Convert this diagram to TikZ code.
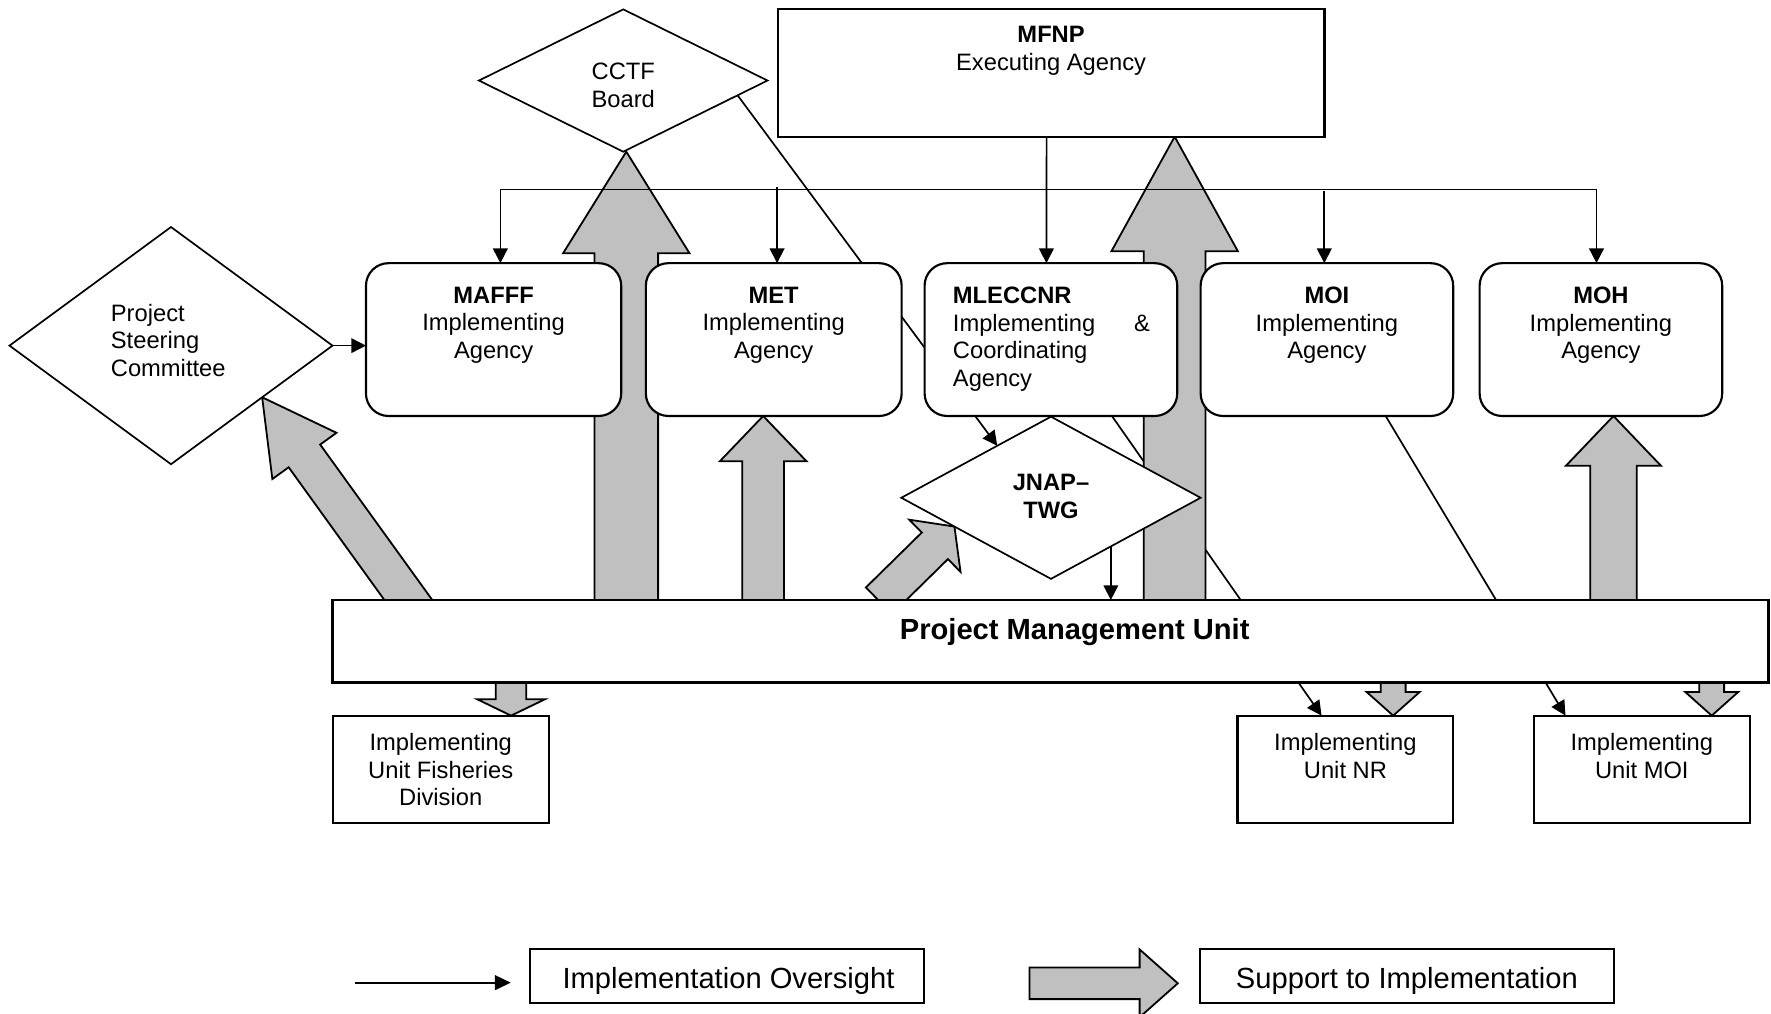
\documentclass[tikz,border=0pt]{standalone}
\usepackage{fontspec}
\setmainfont{Liberation Sans}
\usetikzlibrary{arrows.meta,calc,shapes.geometric}
\definecolor{arrowgray}{RGB}{192,192,192}
\pgfdeclarelayer{bg}
\pgfdeclarelayer{mid}
\pgfsetlayers{bg,mid,main}
\tikzset{
  base/.style={inner sep=0pt, outer sep=0pt},
  agency/.style={base, draw, line width=1.9pt, rounded corners=20pt, fill=white, minimum height=135.3pt, anchor=north west},
  plainbox/.style={base, draw, line width=1.9pt, fill=white, anchor=north west},
  dia/.style={base, draw, line width=1.5pt, fill=white, diamond},
  txt/.style={inner sep=0pt, font=\fontsize{21}{24.4}\selectfont, align=center, anchor=north},
  bigtxt/.style={inner sep=0pt, font=\fontsize{25.8}{30}\selectfont, anchor=north},
  oversight/.style={line width=1.5pt, -{Triangle[length=13pt,width=13pt]}},
  graya/.style={draw=black, line width=1.6pt, fill=arrowgray, line join=miter},
}
\newcommand\blkarrow[5]{%
  \path ($(#2)!#5!(#1)$) coordinate (bkb);
  \draw[graya] ($(#1)!#3!90:(#2)$) -- ($(bkb)!#3!-90:(#1)$) -- ($(bkb)!#4!-90:(#1)$) -- (#2)
    -- ($(bkb)!#4!90:(#1)$) -- ($(bkb)!#3!90:(#1)$) -- ($(#1)!#3!-90:(#2)$) -- cycle;
}
\begin{document}
\begin{tikzpicture}[x=1pt,y=-1pt]
\useasboundingbox (0,0) rectangle (1568,897);
\clip (0,0) rectangle (1568,897);

% ---------- boxes ----------
\node[plainbox, minimum width=484.1pt, minimum height=112.7pt] (MFNP) at (688.6,8.3) {};
\node[agency, minimum width=226pt] (MAFFF) at (324,233) {};
\node[agency, minimum width=226.5pt] (MET) at (571.8,233) {};
\node[agency, minimum width=223.7pt] (MLE) at (818.6,233) {};
\node[agency, minimum width=223.6pt] (MOI) at (1063,233) {};
\node[agency, minimum width=214.8pt] (MOH) at (1310,233) {};
\node[dia, minimum width=255.5pt, minimum height=126pt] (CCTF) at (551.8,71.3) {};
\node[dia, minimum width=286pt, minimum height=210pt] (PSC) at (151.4,306) {};
\node[dia, minimum width=265pt, minimum height=143.6pt] (JNAP) at (930.5,440.7) {};
\node[plainbox, line width=2.4pt, minimum width=1271.1pt, minimum height=73.2pt] (PMU) at (294.5,531.2) {};
\node[plainbox, minimum width=191.5pt, minimum height=95.3pt] (IUF) at (294.5,633.6) {};
\node[plainbox, minimum width=191.1pt, minimum height=95.3pt] (IUNR) at (1095.6,633.6) {};
\node[plainbox, minimum width=191.2pt, minimum height=95.3pt] (IUMOI) at (1358,633.6) {};
\node[plainbox, minimum width=349pt, minimum height=47.5pt] (legO) at (468.9,840.2) {};
\node[plainbox, minimum width=365.9pt, minimum height=48pt] (legS) at (1062.7,840.2) {};

% ---------- texts ----------
\node[txt] (CCTFt) at (551.8,55.5) {CCTF\\Board};
\node[txt] (MFNPt) at (930.6,23) {\textbf{MFNP}\\Executing Agency};
\node[txt] (MAFFFt) at (437,254) {\textbf{MAFFF}\\Implementing\\Agency};
\node[txt] (METt) at (685,254) {\textbf{MET}\\Implementing\\Agency};
\node[txt, anchor=north west, text width=174.5pt, align=left] (MLEt) at (843.5,254)
  {\textbf{MLECCNR}\\Implementing\hfill\&\\Coordinating\\Agency};
\node[txt] (MOIt) at (1174.8,254) {\textbf{MOI}\\Implementing\\Agency};
\node[txt] (MOHt) at (1417.4,254) {\textbf{MOH}\\Implementing\\Agency};
\node[txt, anchor=north west, align=left] (PSCt) at (98,269) {Project\\Steering\\Committee};
\node[txt, font=\fontsize{21}{24.4}\selectfont\bfseries] (JNAPt) at (930.5,420) {JNAP–\\TWG};
\node[bigtxt, font=\fontsize{25.8}{30}\selectfont\bfseries] (PMUt) at (951.5,547) {Project Management Unit};
\node[txt] (IUFt) at (390.2,649) {Implementing\\Unit Fisheries\\Division};
\node[txt] (IUNRt) at (1191.2,649) {Implementing\\Unit NR};
\node[txt] (IUMOIt) at (1453.6,649) {Implementing\\Unit MOI};
\node[bigtxt] (legOt) at (645,856) {Implementation Oversight};
\node[bigtxt] (legSt) at (1245.6,856) {Support to Implementation};

% ---------- oversight lines hidden behind boxes ----------
\begin{pgfonlayer}{bg}
  \draw[oversight] ($(CCTF.east)!0.2075!(CCTF.south)$) -- ($(JNAP.west)!0.641!(JNAP.north)$);
  \draw[oversight] ([xshift=54pt]MLE.south) -- ([xshift=74.5pt]IUNR.north west);
  \draw[oversight] ([xshift=163.8pt]MOI.south west) -- ([xshift=28pt]IUMOI.north west);
\end{pgfonlayer}

% ---------- support (grey block) arrows ----------
\begin{pgfonlayer}{mid}
  \coordinate (tCCTF) at (554.5,545);
  \coordinate (hCCTF) at (tCCTF |- CCTF.south);
  \blkarrow{tCCTF}{hCCTF}{28.2pt}{56pt}{90pt}
  \coordinate (tMFNP) at (1040,545);
  \coordinate (hMFNP) at (tMFNP |- MFNP.south);
  \blkarrow{tMFNP}{hMFNP}{27.3pt}{56pt}{101.5pt}
  \coordinate (tMET) at (675.7,545);
  \coordinate (hMET) at (tMET |- MET.south);
  \blkarrow{tMET}{hMET}{18.5pt}{38.3pt}{40pt}
  \coordinate (tMOH) at (1428.5,545);
  \coordinate (hMOH) at (tMOH |- MOH.south);
  \blkarrow{tMOH}{hMOH}{20.6pt}{42pt}{44pt}
  \coordinate (tPSC) at (373.2,547.4);
  \coordinate (hPSC) at ($(PSC.east)!0.4357!(PSC.south)$);
  \blkarrow{tPSC}{hPSC}{17.2pt}{35pt}{64pt}
  \coordinate (tJN) at (778.2,531.9);
  \coordinate (hJN) at ($(JNAP.west)!0.355!(JNAP.south)$);
  \blkarrow{tJN}{hJN}{16.5pt}{32.4pt}{24.3pt}
  \coordinate (tIUF) at (452.5,590);
  \coordinate (hIUF) at (tIUF |- IUF.north);
  \blkarrow{tIUF}{hIUF}{13.5pt}{30pt}{14.5pt}
  \coordinate (tIUNR) at (1233.5,590);
  \coordinate (hIUNR) at (tIUNR |- IUNR.north);
  \blkarrow{tIUNR}{hIUNR}{11pt}{23.5pt}{21pt}
  \coordinate (tIUMOI) at (1515.5,590);
  \coordinate (hIUMOI) at (tIUMOI |- IUMOI.north);
  \blkarrow{tIUMOI}{hIUMOI}{11pt}{23.5pt}{21pt}
\end{pgfonlayer}

% ---------- oversight arrows ----------
\coordinate (busL) at (443,167.8);
\coordinate (busR) at (1413.5,167.8);
\coordinate (busMET) at (688,165.8);
\coordinate (busMOI) at (1172.5,169.5);
\draw[line width=1.7pt] (busL) -- (busR);
\draw[oversight] (busL) -- (busL |- MAFFF.north);
\draw[oversight] (busR) -- (busR |- MOH.north);
\draw[oversight] (busMET) -- (busMET |- MET.north);
\draw[oversight] (busMOI) -- (busMOI |- MOI.north);
\draw[oversight] ([xshift=-4pt]MFNP.south) -- ([xshift=-4pt]MLE.north);
\draw[oversight] (PSC.east) -- (PSC.east -| MAFFF.west);
\path ($(JNAP.south)!0.4!(JNAP.east)$) coordinate (jd);
\draw[oversight] (jd) -- (jd |- PMU.north);

% ---------- legend ----------
\coordinate (lo1) at (314,870);
\coordinate (lo2) at (452.2,870);
\draw[line width=1.8pt, -{Triangle[length=14pt,width=13pt]}] (lo1) -- (lo2);
\coordinate (ls1) at (911.5,870.6);
\coordinate (ls2) at (1042.8,870.6);
\blkarrow{ls1}{ls2}{14pt}{30pt}{33.8pt}
\end{tikzpicture}
\end{document}
